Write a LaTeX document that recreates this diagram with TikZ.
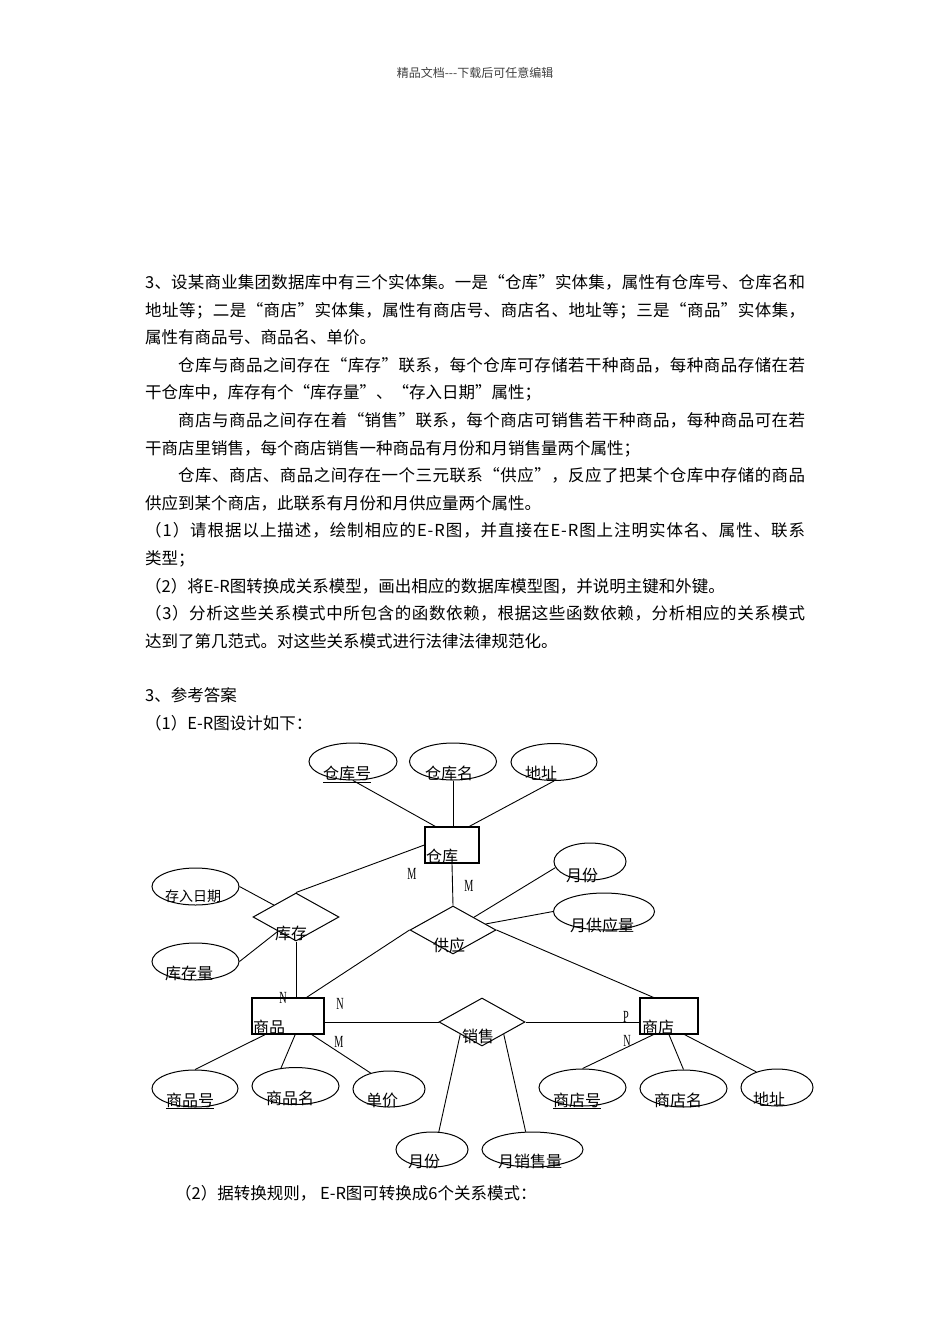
\documentclass[tikz,border=0pt]{standalone}
\usepackage{fontspec}
\setmainfont{Noto Sans CJK SC}
\newfontfamily\cardfont{Liberation Serif}
\XeTeXlinebreaklocale "zh"
\XeTeXlinebreakskip=0.5pt plus 4pt
\usetikzlibrary{shapes.geometric}

% spread the characters of one line over a given width
\def\spreadrun#1{\ifx#1\relax\else#1\hskip0pt plus 1fil\expandafter\spreadrun\fi}
\newcommand{\jline}[2]{\hbox to #1{\spreadrun#2\relax\unskip}}
\newcommand{\cardtxt}[1]{\scalebox{0.6}[1]{#1}}

\tikzset{
    conn/.style={line width=0.9pt},
    entity/.style={draw, rectangle, line width=1.3pt, inner sep=0pt, minimum height=36pt},
    attrib/.style={draw, ellipse, line width=1pt, inner sep=0pt, minimum height=37pt},
    relation/.style={draw, diamond, line width=1pt, inner sep=0pt, minimum width=86pt, minimum height=48pt},
    lbl/.style={anchor=base west, inner sep=0pt, font=\fontsize{16}{16}\selectfont},
    card/.style={inner sep=0pt, font=\cardfont\fontsize{17}{17}\selectfont},
    para/.style={anchor=base west, inner sep=0pt, font=\fontsize{16.5}{16.5}\selectfont},
}

\begin{document}
\begin{tikzpicture}[x=1pt,y=-1pt]

    \fill[white] (0,0) rectangle (950,1344);
    \useasboundingbox (0,0) rectangle (950,1344);

    %page header
    \node[font=\fontsize{12}{12}\selectfont, text=black!75] (hdr) at (475,73) {精品文档{-}{-}{-}下载后可任意编辑};

    %question text
    \node[para] (q1)  at (145,288.5) {\jline{660pt}{3、设某商业集团数据库中有三个实体集。一是“仓库”实体集，属性有仓库号、仓库名和}};
    \node[para] (q2)  at (145,316.1) {\jline{660pt}{地址等；二是“商店”实体集，属性有商店号、商店名、地址等；三是“商品”实体集，}};
    \node[para] (q3)  at (145,343.7) {属性有商品号、商品名、单价。};
    \node[para] (q4)  at (178,371.3) {\jline{627pt}{仓库与商品之间存在“库存”联系，每个仓库可存储若干种商品，每种商品存储在若}};
    \node[para] (q5)  at (145,398.9) {干仓库中，库存有个“库存量”、“存入日期”属性；};
    \node[para] (q6)  at (178,426.5) {\jline{627pt}{商店与商品之间存在着“销售”联系，每个商店可销售若干种商品，每种商品可在若}};
    \node[para] (q7)  at (145,454.1) {干商店里销售，每个商店销售一种商品有月份和月销售量两个属性；};
    \node[para] (q8)  at (178,481.7) {\jline{627pt}{仓库、商店、商品之间存在一个三元联系“供应”，反应了把某个仓库中存储的商品}};
    \node[para] (q9)  at (145,509.3) {供应到某个商店，此联系有月份和月供应量两个属性。};
    \node[para] (q10) at (145,536.9) {\jline{660pt}{（1）请根据以上描述，绘制相应的E-R图，并直接在E-R图上注明实体名、属性、联系}};
    \node[para] (q11) at (145,564.5) {类型；};
    \node[para] (q12) at (145,592.1) {（2）将E-R图转换成关系模型，画出相应的数据库模型图，并说明主键和外键。};
    \node[para] (q13) at (145,619.7) {\jline{660pt}{（3）分析这些关系模式中所包含的函数依赖，根据这些函数依赖，分析相应的关系模式}};
    \node[para] (q14) at (145,647.3) {达到了第几范式。对这些关系模式进行法律法律规范化。};

    %answer text
    \node[para] (a1) at (145,701.5) {3、参考答案};
    \node[para] (a2) at (145,729.5) {（1）E-R图设计如下：};
    \node[para] (a3) at (175,1199.5) {（2）据转换规则， E-R图可转换成6个关系模式：};

    %entities
    \node[entity, minimum width=54pt] (ck) at (452,845) {};
    \node[entity, minimum width=72pt] (sp) at (288,1016) {};
    \node[entity, minimum width=58pt] (sd) at (669,1016) {};

    %relationships
    \node[relation] (kc) at (296,917) {};
    \node[relation] (gy) at (453,930) {};
    \node[relation] (xs) at (482,1022) {};

    %attributes
    \node[attrib, minimum width=88pt] (ckh)  at (353,761.5) {};
    \node[attrib, minimum width=87pt] (ckm)  at (453,761.5) {};
    \node[attrib, minimum width=86pt] (ckdz) at (554,762) {};
    \node[attrib, minimum width=72pt] (gyyf) at (590,861.5) {};
    \node[attrib, minimum width=101pt] (gyl) at (604,911.5) {};
    \node[attrib, minimum width=87pt] (kcrq) at (195.5,886.5) {};
    \node[attrib, minimum width=87pt] (kcl)  at (195.5,961.5) {};
    \node[attrib, minimum width=86pt] (sph)  at (195,1088.5) {};
    \node[attrib, minimum width=87pt] (spm)  at (295.5,1086) {};
    \node[attrib, minimum width=72pt, minimum height=36pt] (spdj) at (389,1089) {};
    \node[attrib, minimum width=87pt] (sdh)  at (582.5,1087.5) {};
    \node[attrib, minimum width=87pt] (sdm)  at (683.5,1088.5) {};
    \node[attrib, minimum width=72pt] (sddz) at (777,1087.5) {};
    \node[attrib, minimum width=72pt, minimum height=35pt] (xsyf) at (432,1149.5) {};
    \node[attrib, minimum width=101pt, minimum height=35pt] (xsl) at (532.5,1149.5) {};

    %labels
    \node[lbl] (ck-t)   at (426,862) {仓库};
    \node[lbl] (sp-t)   at (253,1033) {商品};
    \node[lbl] (sd-t)   at (642,1033) {商店};
    \node[lbl] (kc-t)   at (275,939) {库存};
    \node[lbl] (gy-t)   at (433,951) {供应};
    \node[lbl] (xs-t)   at (462,1042) {销售};
    \node[lbl] (ckh-t)  at (323,779) {\underline{仓库号}};
    \node[lbl] (ckm-t)  at (425,779) {仓库名};
    \node[lbl] (ckdz-t) at (525,779) {地址};
    \node[lbl] (gyyf-t) at (566,881) {月份};
    \node[lbl] (gyl-t)  at (570,931) {月供应量};
    \node[lbl, font=\fontsize{14}{14}\selectfont] (kcrq-t) at (165,901) {存入日期};
    \node[lbl] (kcl-t)  at (165,979) {库存量};
    \node[lbl] (sph-t)  at (166,1106) {\underline{商品号}};
    \node[lbl] (spm-t)  at (266,1104) {商品名};
    \node[lbl] (spdj-t) at (366,1106) {单价};
    \node[lbl] (sdh-t)  at (553,1106) {\underline{商店号}};
    \node[lbl] (sdm-t)  at (654,1106) {商店名};
    \node[lbl] (sddz-t) at (753,1105) {地址};
    \node[lbl] (xsyf-t) at (408,1167) {月份};
    \node[lbl] (xsl-t)  at (498,1167) {月销售量};

    %cardinalities
    \node[card] (c1) at (412,874) {\cardtxt{M}};
    \node[card] (c2) at (469,886) {\cardtxt{M}};
    \node[card] (c3) at (283,998) {\cardtxt{N}};
    \node[card] (c4) at (340,1004) {\cardtxt{N}};
    \node[card] (c5) at (339,1042) {\cardtxt{M}};
    \node[card] (c6) at (626,1017) {\cardtxt{P}};
    \node[card] (c7) at (627,1041) {\cardtxt{N}};

    %draw connectors
    \draw[conn] (ckh.south) -- (ck.132);
    \draw[conn] (ckm.south) -- (ckm.south |- ck.north);
    \draw[conn] (ckdz.south) -- (ck.47);
    \draw[conn] (ck.west) -- (kc.north);
    \draw[conn] (ck.south) -- (gy.north);
    \draw[conn] (kcrq.east) -- (kc);
    \draw[conn] (kcl.east) -- (kc);
    \draw[conn] (kc.south) -- (kc.south |- sp.north);
    \draw[conn] (sp.45) -- (gy.west);
    \draw[conn] (gy.east) -- (sd.130);
    \draw[conn] (gy) -- (gyyf.190);
    \draw[conn] (gy) -- (gyl.west);
    \draw[conn] (sp.east |- xs.west) -- (xs.west);
    \draw[conn] (xs.east) -- (sd.west |- xs.east);
    \draw[conn] (sp.219) -- (sph.north);
    \draw[conn] (sp.-69) -- (spm.129);
    \draw[conn] (sp.-38) -- (spdj.139);
    \draw[conn] (xs.south west) -- (xsyf.69);
    \draw[conn] (xs.south east) -- (xsl.111);
    \draw[conn] (sd.230) -- (sdh.north);
    \draw[conn] (sd.south) -- (sdm.north);
    \draw[conn] (sd.-50) -- (sddz.143);

\end{tikzpicture}
\end{document}
